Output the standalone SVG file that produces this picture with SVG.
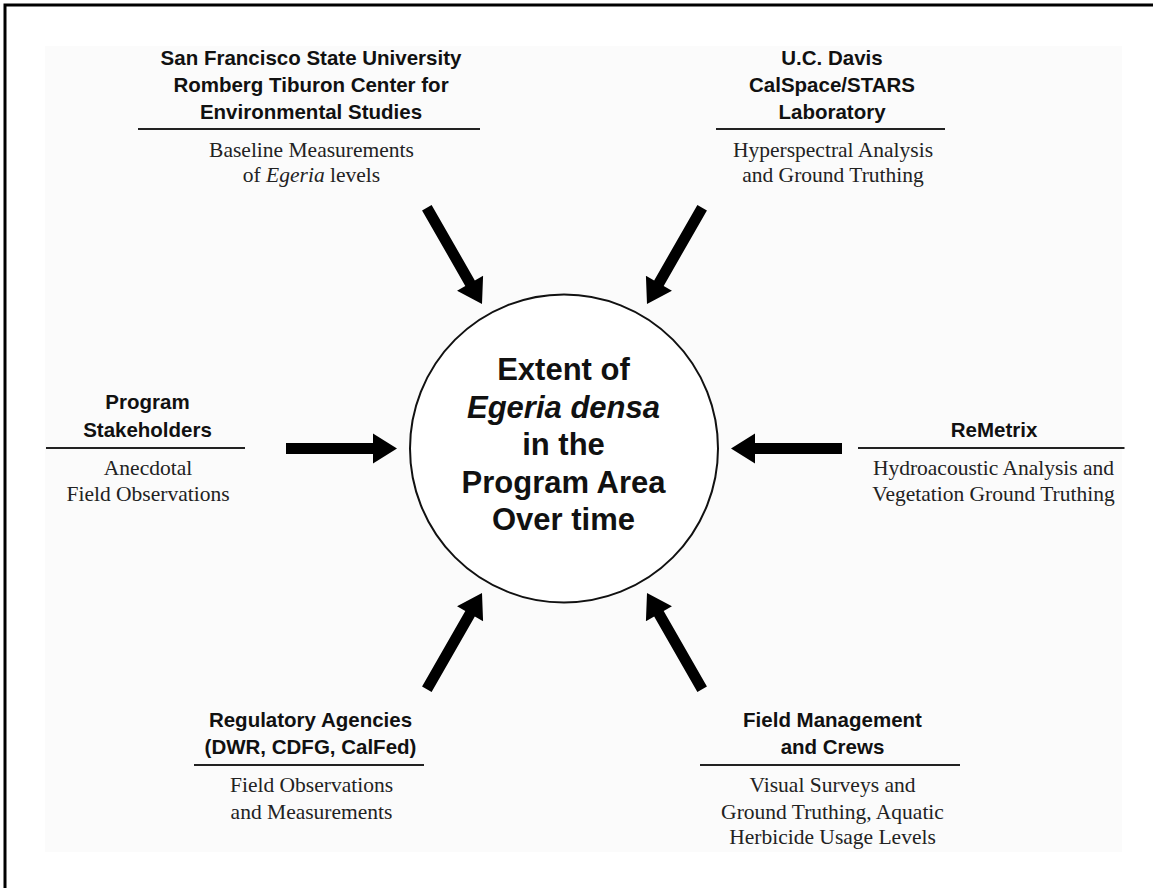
<svg xmlns="http://www.w3.org/2000/svg" width="1153" height="888" viewBox="0 0 1153 888">
<style>
.b{font-family:"Liberation Sans",Arial,sans-serif;font-weight:bold;font-size:20.5px;fill:#111;text-anchor:middle}
.s{font-family:"Liberation Serif","Times New Roman",serif;font-size:21.5px;fill:#222;text-anchor:middle}
.c{font-family:"Liberation Sans",Arial,sans-serif;font-weight:bold;font-size:31px;fill:#111;text-anchor:middle}
.rule{stroke:#222;stroke-width:2;fill:none}
.arr{fill:#000}
</style>
<defs>
<path id="arrow" class="arr" d="M-111,-5.5 H-24 V-15 L0,0 L-24,15 V5.5 H-111 Z"/>
</defs>
<rect x="0" y="0" width="1153" height="888" fill="#fff"/>
<rect x="45" y="46" width="1077" height="806" fill="#fbfbfb"/>
<path d="M5,888 V5 H1153" fill="none" stroke="#000" stroke-width="3"/>

<g id="center">
<circle cx="564" cy="448.5" r="154" fill="#fff" stroke="#111" stroke-width="2"/>
<text class="c" x="563.5" y="380">Extent of</text>
<text class="c" x="563.5" y="417.5" font-style="italic">Egeria densa</text>
<text class="c" x="563.5" y="455">in the</text>
<text class="c" x="563.5" y="492.5">Program Area</text>
<text class="c" x="563.5" y="530">Over time</text>
</g>

<g id="sfsu">
<text class="b" x="311" y="65">San Francisco State University</text>
<text class="b" x="311" y="92">Romberg Tiburon Center for</text>
<text class="b" x="311" y="119">Environmental Studies</text>
<line class="rule" x1="138" y1="129" x2="480" y2="129"/>
<text class="s" x="311.5" y="157">Baseline Measurements</text>
<text class="s" x="311.5" y="182">of <tspan font-style="italic">Egeria</tspan> levels</text>
</g>

<g id="ucdavis">
<text class="b" x="832" y="65">U.C. Davis</text>
<text class="b" x="832" y="92">CalSpace/STARS</text>
<text class="b" x="832" y="119">Laboratory</text>
<line class="rule" x1="716" y1="129" x2="945" y2="129"/>
<text class="s" x="833" y="157">Hyperspectral Analysis</text>
<text class="s" x="833" y="182">and Ground Truthing</text>
</g>

<g id="stakeholders">
<text class="b" x="147.5" y="409">Program</text>
<text class="b" x="147.5" y="436.5">Stakeholders</text>
<line class="rule" x1="46" y1="448" x2="245" y2="448"/>
<text class="s" x="148" y="474.5">Anecdotal</text>
<text class="s" x="148" y="500.5">Field Observations</text>
</g>

<g id="remetrix">
<text class="b" x="994" y="436.5">ReMetrix</text>
<line class="rule" x1="858" y1="448" x2="1124.5" y2="448"/>
<text class="s" x="993.5" y="474.5">Hydroacoustic Analysis and</text>
<text class="s" x="993.5" y="501">Vegetation Ground Truthing</text>
</g>

<g id="regulatory">
<text class="b" x="310.5" y="726.5">Regulatory Agencies</text>
<text class="b" x="310.5" y="753.5">(DWR, CDFG, CalFed)</text>
<line class="rule" x1="194" y1="765" x2="424" y2="765"/>
<text class="s" x="311.5" y="792">Field Observations</text>
<text class="s" x="311.5" y="818.5">and Measurements</text>
</g>

<g id="fieldmgmt">
<text class="b" x="832.5" y="726.5">Field Management</text>
<text class="b" x="832.5" y="753.5">and Crews</text>
<line class="rule" x1="700" y1="765" x2="960" y2="765"/>
<text class="s" x="832.5" y="792">Visual Surveys and</text>
<text class="s" x="832.5" y="818.5">Ground Truthing, Aquatic</text>
<text class="s" x="832.5" y="844">Herbicide Usage Levels</text>
</g>

<g id="connectors">
<use href="#arrow" transform="translate(482,304) rotate(60.2)"/>
<use href="#arrow" transform="translate(647,304) rotate(119.8)"/>
<use href="#arrow" transform="translate(397,448.5)"/>
<use href="#arrow" transform="translate(731,448.5) rotate(180)"/>
<use href="#arrow" transform="translate(482,593) rotate(-60.2)"/>
<use href="#arrow" transform="translate(647,593) rotate(-119.8)"/>
</g>
</svg>
